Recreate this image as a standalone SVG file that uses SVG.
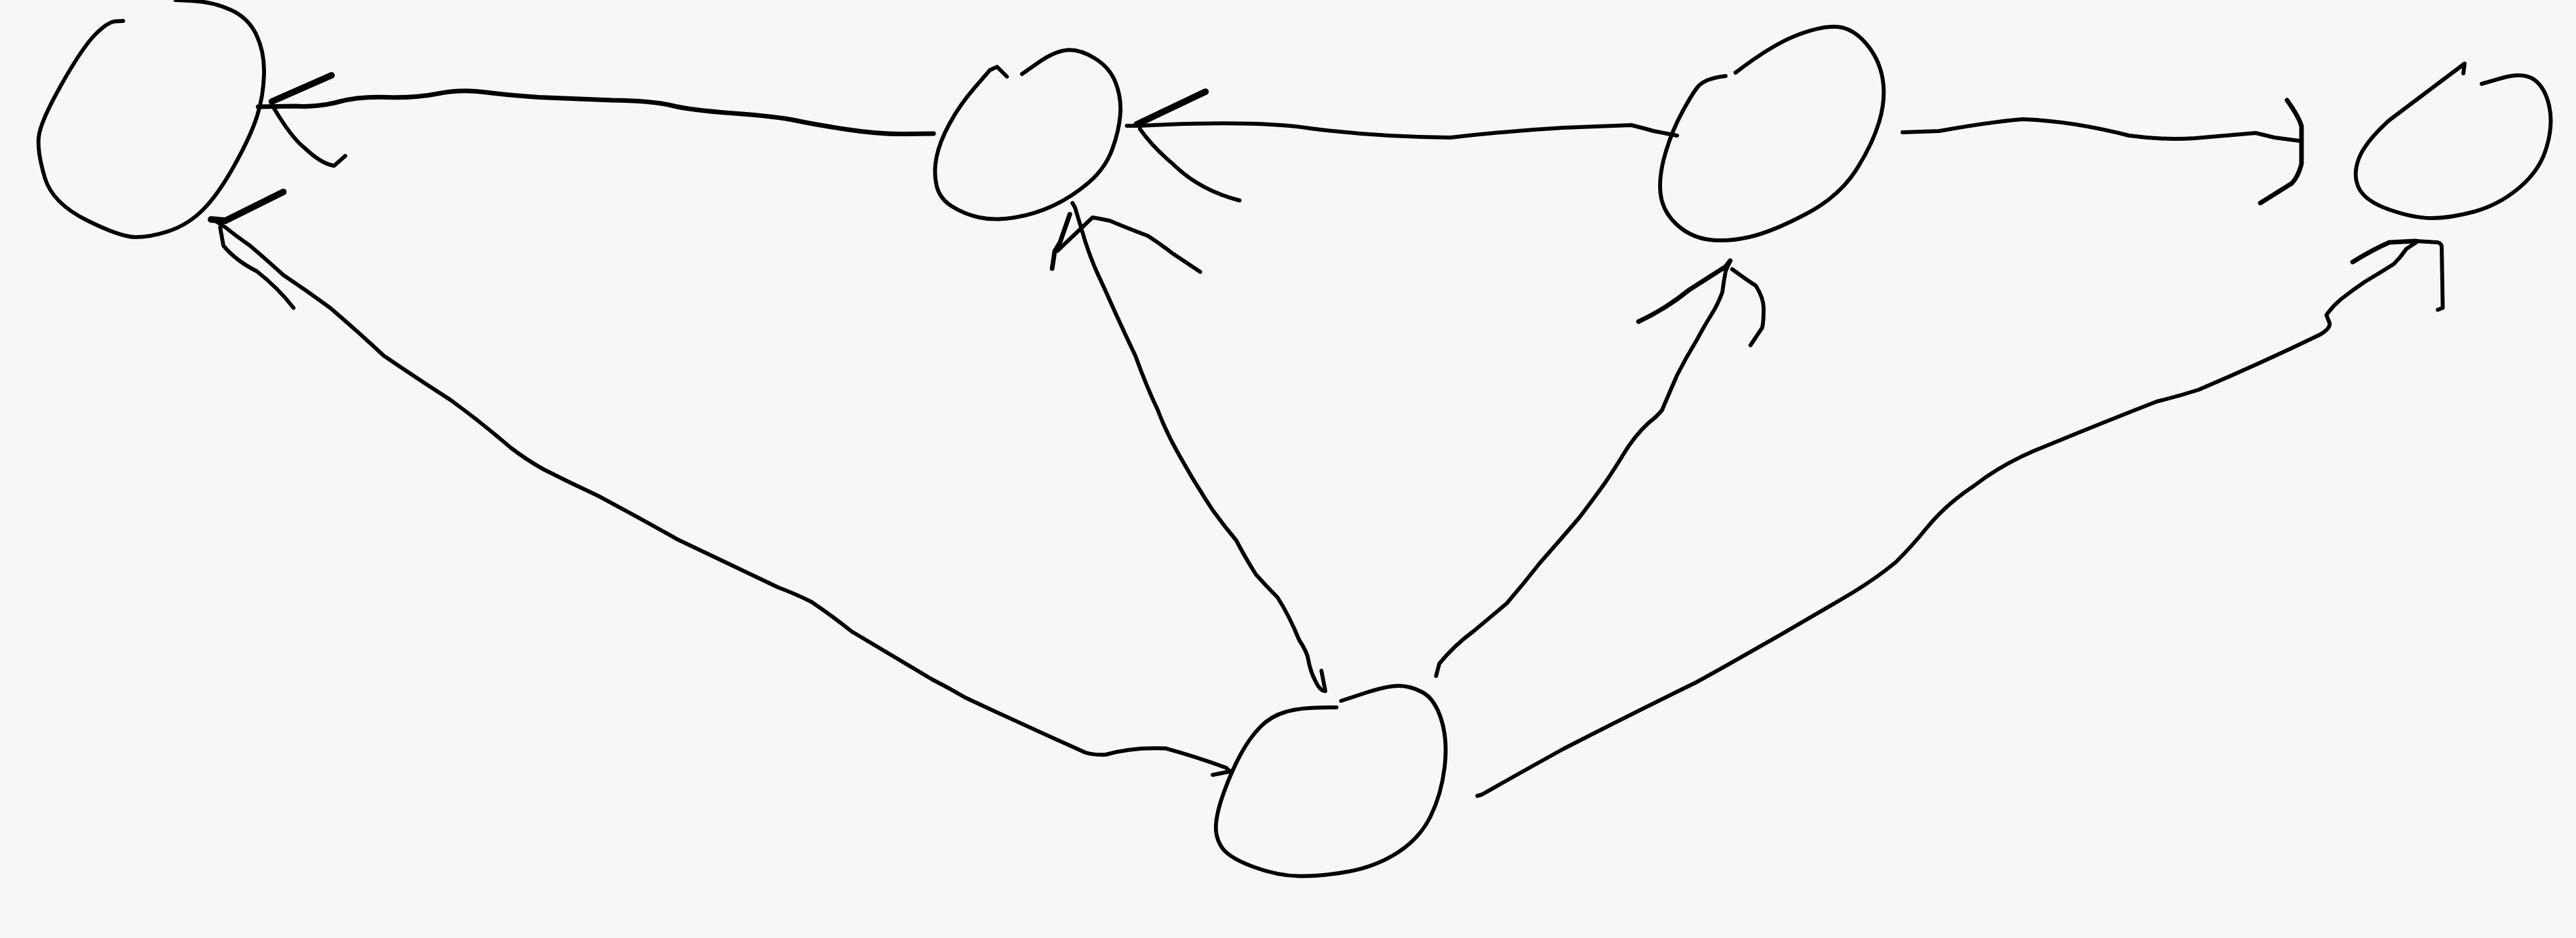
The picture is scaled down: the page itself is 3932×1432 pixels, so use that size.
<svg xmlns="http://www.w3.org/2000/svg" width="3932" height="1432" viewBox="0 0 3932 1432">
<style>
.ink{fill:none;stroke:#000;stroke-width:6;stroke-linecap:round;stroke-linejoin:round}
.thick{stroke-width:10}
.mid{stroke-width:7}
</style>
<rect x="0" y="0" width="3932" height="1432" fill="#f7f7f7"/>
<g id="node-a">
<path class="ink" d="M188,32 L176.5,32.5 Q165,33 145.5,52.5 Q126,72 93.5,129.5 Q61,187 59,210 Q57,233 68.5,271.5 Q80,310 132,336 Q184,362 207,362 Q230,362 258.5,352.5 Q287,343 310,320 Q333,297 358,252 Q383,207 392.5,177 Q402,147 403,113.5 Q404,80 391.5,53.5 Q379,27 352,15 Q325,3 296.5,1.5 L268,0"/>
</g>
<g id="node-b">
<path class="ink" d="M1537,117 L1522,102 L1511,107 L1488,133.5 Q1465,160 1449.5,188.5 Q1434,217 1429.5,240 Q1425,263 1429.5,283 Q1434,303 1453,315 Q1472,327 1495,332 Q1518,337 1549,332 Q1580,327 1608.5,313.5 Q1637,300 1662,278.5 Q1687,257 1697.5,228.5 Q1708,200 1710,175 Q1712,150 1703,126.5 Q1694,103 1671,89 Q1648,75 1629,76.5 Q1610,78 1585,95.5 L1560,113"/>
</g>
<g id="node-c">
<path class="ink" d="M2634,116 Q2600,120 2590.5,134 Q2583,143 2567.5,171.5 Q2552,200 2542,234 Q2532,268 2534.5,294.5 Q2537,321 2557.5,341 Q2578,361 2606,365.5 Q2634,370 2669.5,362 Q2705,354 2756,327 Q2807,300 2832.5,260.5 Q2858,221 2868.5,185.5 Q2879,150 2873.5,119.5 Q2868,89 2848,66 Q2828,43 2805,41 Q2782,39 2743.5,53.5 Q2705,68 2649,111"/>
</g>
<g id="node-d">
<path class="ink" d="M3760,112 L3762,97 L3647,183.5 Q3610,217 3600.5,242 Q3591,267 3600.5,287 Q3610,307 3647,320 Q3684,333 3712,333 Q3740,333 3777,323 Q3814,313 3845.5,286.5 Q3877,260 3887,225 Q3897.5,190 3891,161.5 Q3884.5,133 3868,121.5 Q3851,110 3819.5,119 L3788,128"/>
</g>
<g id="node-e">
<path class="ink" d="M2040,1080 Q1987,1079 1963.5,1086.5 Q1940,1093 1923.5,1110 Q1907,1127 1893.5,1152 Q1880,1177 1868.5,1208.5 Q1857,1240 1856,1260 Q1855,1280 1866,1295 Q1877,1310 1913.5,1323.5 Q1950,1337 1983.5,1337.5 Q2017,1338 2058.5,1330.5 Q2100,1323 2133.5,1301.5 Q2167,1280 2183.5,1246.5 Q2200,1213 2205,1171.5 Q2210,1130 2200,1098.5 Q2190,1067 2171.5,1057 Q2153,1047 2135,1047 Q2117,1047 2082,1058.5 L2047,1070"/>
</g>
<g id="connectors">
<g id="b-to-a">
<path class="ink mid" d="M394,163 L450,162 Q485,164 516.5,155.5 Q548,147 590.5,148.5 Q633,150 668,143 Q703,136 738,140.5 Q773,145 822,148.5 L934,153 Q997,154 1025,161 Q1053,168 1120,173 Q1187,178 1215,184 Q1243,190 1292,197.5 Q1341,205 1380,204.5 L1425,204"/>
<path class="ink thick" d="M506,115 L415,155"/>
<path class="ink" d="M418,165 Q445,210 464,225 Q490,250 510,253 L527,238"/>
</g>
<g id="c-to-b">
<path class="ink" d="M1720,192 L1740,192 Q1915,183 2000,196 Q2099,209 2214,210 Q2300,200 2386,195 L2490,191 Q2510,196 2524,200 L2560,207"/>
<path class="ink thick" d="M1840,140 L1735,190"/>
<path class="ink" d="M1740,197 Q1760,225 1790,250 Q1830,290 1892,306"/>
</g>
<g id="c-to-d">
<path class="ink" d="M2904,202 L2960,200 Q3037,186 3088,182 Q3164,185 3250,207 Q3300,214 3350,211 L3443,203 Q3460,207 3472,210 L3510,215"/>
<path class="ink mid" d="M3491,153 Q3510,180 3513,193 L3513,250 Q3508,270 3498,280 L3450,310"/>
</g>
<g id="e-to-a">
<path class="ink" d="M330,338 L344,347 Q360,360 381.6,375 Q405,395 432.7,420 Q470,445 504,470 Q545,505 585.7,543 Q640,580 687.8,610.6 Q735,645 779.6,683.5 Q805,703 830.6,717 Q870,737 912,756.5 Q975,790 1034.7,823.8 Q1110,860 1187.8,896.8 Q1215,907 1238.8,919 Q1270,940 1300,964 Q1360,1000 1422.4,1037 Q1448,1050 1473.5,1065 Q1565,1108 1657,1149 Q1670,1153 1687.8,1152 Q1730,1140 1779.6,1142.6 Q1825,1155 1871.4,1172 L1880,1180"/>
<path class="ink" d="M1851,1183 L1881,1177"/>
<path class="ink thick" d="M432.5,293 L344,337 L322,335"/>
<path class="ink" d="M336,347 L341,375 Q360,398 391.8,414 Q425,440 448,470"/>
</g>
<g id="e-to-b">
<path class="ink" d="M1637,310 L1641,317 L1656,367 Q1665,395 1675,417 L1687,443 Q1710,495 1733,543 Q1750,590 1767,625.5 Q1780,660 1800,695 Q1825,740 1853,781.6 Q1870,805 1887,825 Q1900,850 1917,877 Q1933,895 1950,912 Q1968,940 1983,977 Q1995,995 1997,1007 Q2000,1025 2008,1040 Q2015,1055 2023,1055 L2017,1024"/>
<path class="ink mid" d="M1633,327 L1618,370 L1610,383 L1606,410"/>
<path class="ink" d="M1614,383 L1667.6,332 Q1680,334 1694,337 Q1725,350 1752,360 Q1772,373 1790,387 L1832,415"/>
</g>
<g id="e-to-c">
<path class="ink" d="M2641,398 L2634,414 Q2631,430 2629,446 Q2622,465 2613,479 Q2600,500 2590,519 Q2574,545 2560,572.5 Q2548,600 2537,626 Q2528,637 2517,645 Q2495,665 2477,695 Q2465,715 2450,737 Q2430,765 2410,791 Q2380,826 2350,860 Q2325,892 2300,921 Q2275,942 2250,963 Q2220,985 2197,1013 L2192,1032"/>
<path class="ink mid" d="M2501,491 Q2545,470 2577.6,443 L2634,407 L2641,398"/>
<path class="ink" d="M2644,411 Q2670,430 2680,436 Q2692,455 2692,471 Q2692,490 2690,500 L2672,527"/>
</g>
<g id="e-to-d">
<path class="ink" d="M2255,1215 L2262,1213 Q2320,1180 2385,1144 Q2490,1090 2588.5,1042 Q2710,975 2829,904 Q2865,882 2894,858 Q2920,832 2940,807 Q2970,770 3014,741 Q3060,705 3125,680 Q3210,645 3292,613 Q3325,605 3356,595 Q3450,555 3541,511 Q3560,500 3555,491 L3551,481 Q3560,468 3573,457 Q3592,442 3610,430 Q3635,415 3654,403 Q3665,392 3673,380 L3688,370"/>
<path class="ink mid" d="M3591,400 Q3620,382 3647,370 L3688,368"/>
<path class="ink" d="M3688,368 L3721,370 Q3727,372 3727,377 L3728.6,470 L3721,473"/>
</g>
</g>
</svg>
